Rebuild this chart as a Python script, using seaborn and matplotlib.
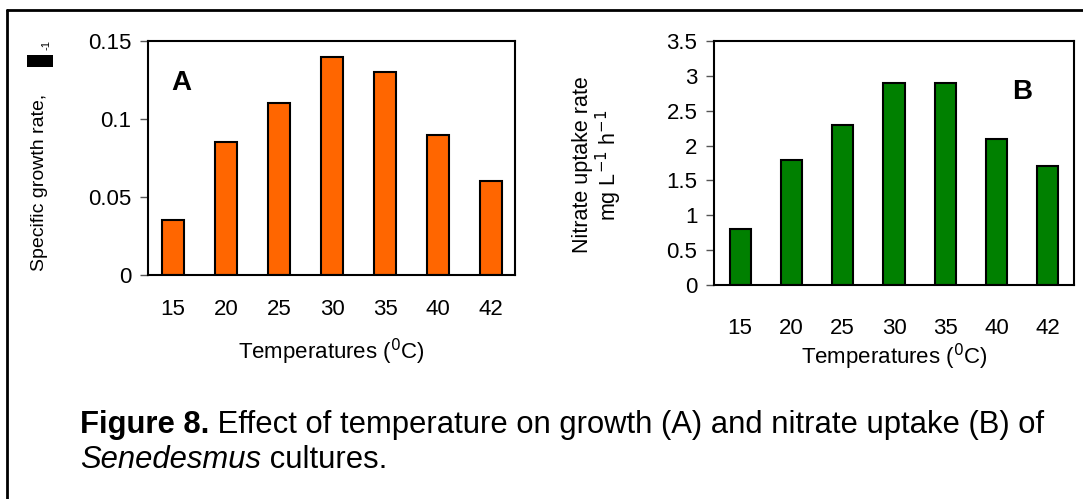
import matplotlib
matplotlib.use("Agg")
import matplotlib.pyplot as plt
import seaborn as sns
from matplotlib.lines import Line2D
from matplotlib.patches import Rectangle

# data
temps = ["15", "20", "25", "30", "35", "40", "42"]
growth_rate = [0.035, 0.085, 0.11, 0.14, 0.13, 0.09, 0.06]
nitrate_uptake = [0.8, 1.8, 2.3, 2.9, 2.9, 2.1, 1.7]
growth_yticks = [0, 0.05, 0.1, 0.15]
growth_yticklabels = ["0", "0.05", "0.1", "0.15"]
nitrate_yticks = [0, 0.5, 1, 1.5, 2, 2.5, 3, 3.5]
nitrate_yticklabels = ["0", "0.5", "1", "1.5", "2", "2.5", "3", "3.5"]

sns.set_style("white")
plt.rcParams['font.family'] = ['Liberation Sans', 'DejaVu Sans']
plt.rcParams['text.color'] = 'black'
plt.rcParams['axes.labelcolor'] = 'black'
plt.rcParams['xtick.color'] = 'black'
plt.rcParams['ytick.color'] = 'black'

W, H = 1083, 499
fig = plt.figure(figsize=(W / 100, H / 100), dpi=100)


def px_axes(left, top, right, bottom):
    return fig.add_axes([left / W, 1 - bottom / H, (right - left) / W, (bottom - top) / H])


def style_axes(ax, xpad):
    for s in ax.spines.values():
        s.set_color('black')
        s.set_linewidth(1.5)
    ax.tick_params(axis='y', left=True, length=6, width=1, color='#555555', pad=6,
                   labelsize=16, labelcolor='black')
    ax.tick_params(axis='x', bottom=False, pad=xpad, labelsize=16, labelcolor='black')
    ax.set_ylabel('')


# Panel A
ax1 = px_axes(148, 41, 515, 275)
sns.barplot(x=temps, y=growth_rate, color='#FF6600', edgecolor='black', linewidth=1.5,
            width=0.42, saturation=1, ax=ax1)
ax1.set_xlim(-0.47, 6.45)
ax1.set_ylim(0, 0.15)
ax1.set_yticks(growth_yticks)
ax1.set_yticklabels(growth_yticklabels)
style_axes(ax1, 14)
ax1.set_xlabel('Temperatures ($^0$C)', fontsize=16, labelpad=12)
ax1.text(0.09, 0.82, 'A', transform=ax1.transAxes, fontsize=20, fontweight='bold',
         ha='center', va='center')

# Panel B
ax2 = px_axes(714, 41, 1074, 285)
sns.barplot(x=temps, y=nitrate_uptake, color='#008000', edgecolor='black', linewidth=1.5,
            width=0.41, saturation=1, ax=ax2)
ax2.set_xlim(-0.51, 6.51)
ax2.set_ylim(0, 3.5)
ax2.set_yticks(nitrate_yticks)
ax2.set_yticklabels(nitrate_yticklabels)
style_axes(ax2, 20)
ax2.set_xlabel('Temperatures ($^0$C)', fontsize=16, labelpad=2)
ax2.text(0.855, 0.79, 'B', transform=ax2.transAxes, fontsize=20, fontweight='bold',
         ha='center', va='center')

# y labels
fig.text(40 / W, 1 - 182 / H, 'Specific growth rate,', rotation=90, fontsize=14,
         ha='center', va='center')
fig.add_artist(Rectangle((27 / W, 1 - 67 / H), 26 / W, 12 / H, transform=fig.transFigure,
                         facecolor='black', edgecolor='none'))
fig.text(47 / W, 1 - 45 / H, '-1', rotation=90, fontsize=8, ha='center', va='center')
fig.text(598 / W, 1 - 165 / H, 'Nitrate uptake rate\nmg L$^{-1}$ h$^{-1}$', rotation=90,
         fontsize=15.5, ha='center', va='center', multialignment='center', linespacing=1.05)

# outer frame (open at right and bottom)
fig.add_artist(Line2D([7 / W, 7 / W], [0, 1 - 10 / H], transform=fig.transFigure,
                      color='black', linewidth=2))
fig.add_artist(Line2D([7 / W, 1], [1 - 10 / H, 1 - 10 / H], transform=fig.transFigure,
                      color='black', linewidth=2))

# caption
cap_size = 22.3
t1 = fig.text(80 / W, 1 - 433 / H, 'Figure 8.', fontsize=cap_size, fontweight='bold',
              va='baseline')
t2 = fig.text(0, 0, ' Effect of temperature on growth (A) and nitrate uptake (B) of',
              fontsize=cap_size, va='baseline')
fig.canvas.draw()
r = fig.canvas.get_renderer()
bb = t1.get_window_extent(r)
t2.set_position((bb.x1 / W, 1 - 433 / H))
t3 = fig.text(80 / W, 1 - 468 / H, 'Senedesmus', fontsize=cap_size, style='italic',
              va='baseline')
fig.canvas.draw()
bb = t3.get_window_extent(r)
fig.text(bb.x1 / W, 1 - 468 / H, ' cultures.', fontsize=cap_size, va='baseline')

fig.savefig('out.png', dpi=100)
